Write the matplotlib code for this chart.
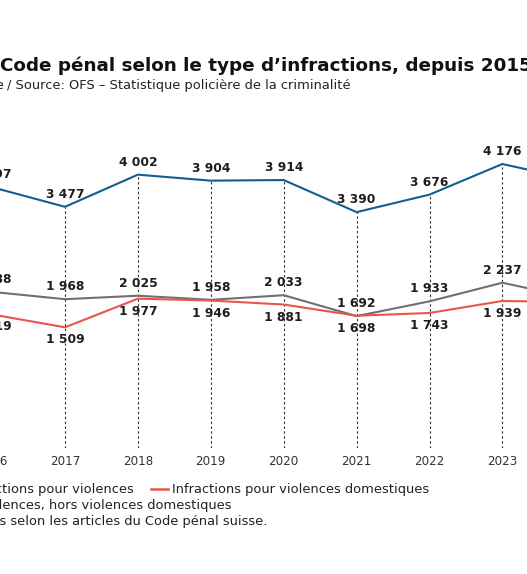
import matplotlib
matplotlib.use("Agg")
import matplotlib.pyplot as plt
from matplotlib.lines import Line2D

# ---- data ----
years = [2016, 2017, 2018, 2019, 2020, 2021, 2022, 2023, 2024]
total = [3797, 3477, 4002, 3904, 3914, 3390, 3676, 4176, 3913]
hors_dom = [2088, 1968, 2025, 1958, 2033, 1692, 1933, 2237, 1979]
domestiques = [1719, 1509, 1977, 1946, 1881, 1698, 1743, 1939, 1922]
tick_labels = [str(y) for y in years]

labels_series = ["Total des infractions pour violences",
                 "Infractions pour violences domestiques",
                 "Infractions pour violences, hors violences domestiques"]

C_BLUE = "#155d8c"
C_GRAY = "#707070"
C_RED = "#e8554c"
TXT = "#1e1e1e"

plt.rcParams['font.family'] = ['DejaVu Sans']

W, H = 527, 574
fig = plt.figure(figsize=(W / 100, H / 100), dpi=100)

def fx(x):
    return x / W

def fy(y):
    return 1 - y / H

# axes geometry (pixel mapping derived from reference)
x2017 = 65.0
step = 72.9
xl0, xl1 = 2015.5, 2024.5
px_l = x2017 + (xl0 - 2017) * step
px_r = x2017 + (xl1 - 2017) * step
y_top_px, y_bot_px = 120.0, 448.0
y0_px, k = 419.7, 0.06123
ylo = (y0_px - y_bot_px) / k
yhi = (y0_px - y_top_px) / k

ax = fig.add_axes([fx(px_l), fy(y_bot_px), (px_r - px_l) / W, (y_bot_px - y_top_px) / H])
ax.set_xlim(xl0, xl1)
ax.set_ylim(ylo, yhi)
for s in ax.spines.values():
    s.set_visible(False)
ax.set_yticks([])
ax.set_xticks(years)
ax.set_xticklabels(tick_labels, fontsize=8.6, color="#333333")
ax.tick_params(axis='x', length=0, pad=5)

# dashed guide lines
ax.vlines(years, ylo, total, colors="#333333", linestyles=(0, (2.2, 2.2)), linewidth=0.8, zorder=1)

ax.plot(years, hors_dom, color=C_GRAY, lw=1.5, zorder=3, solid_joinstyle='miter')
ax.plot(years, domestiques, color=C_RED, lw=1.5, zorder=3, solid_joinstyle='miter')
ax.plot(years, total, color=C_BLUE, lw=1.5, zorder=3, solid_joinstyle='miter')

def fmt(v):
    return f"{v:,}".replace(",", " ")

for x, v in zip(years, total):
    ax.annotate(fmt(v), (x, v), xytext=(0, 9), textcoords='offset points',
                ha='center', va='center', fontsize=8.8, fontweight='bold', color=TXT)
for x, v in zip(years, hors_dom):
    ax.annotate(fmt(v), (x, v), xytext=(0, 9), textcoords='offset points',
                ha='center', va='center', fontsize=8.8, fontweight='bold', color=TXT)
for x, v in zip(years, domestiques):
    ax.annotate(fmt(v), (x, v), xytext=(0, -9), textcoords='offset points',
                ha='center', va='center', fontsize=8.8, fontweight='bold', color=TXT)

# title & subtitle
fig.text(fx(-2), fy(66), "Infractions enregistrées au ", ha='right', va='center',
         fontsize=13.2, fontweight='bold', color="#111111")
fig.text(fx(0), fy(66), "Code pénal selon le type d’infractions, depuis 2015", ha='left', va='center',
         fontsize=13.2, fontweight='bold', color="#111111")
fig.text(fx(7.5), fy(86), "Nombre d’infractions, valeur absolue ", ha='right', va='center',
         fontsize=9.4, color="#222222")
fig.text(fx(7), fy(86), "/ Source: OFS – Statistique policière de la criminalité",
         ha='left', va='center', fontsize=9.4, color="#222222")

# legend (manual)
fs_leg = 9.35
fig.text(fx(134), fy(490), labels_series[0], ha='right', va='center', fontsize=fs_leg, color="#222222")
fig.add_artist(Line2D([fx(151), fx(168)], [fy(489), fy(489)], color=C_RED, lw=1.8))
fig.text(fx(172), fy(490), labels_series[1], ha='left', va='center', fontsize=fs_leg, color="#222222")
fig.text(fx(231), fy(506), labels_series[2], ha='right', va='center', fontsize=fs_leg, color="#222222")
fig.text(fx(267), fy(522), "Remarque: infractions enregistrées selon les articles du Code pénal suisse.",
         ha='right', va='center', fontsize=fs_leg, color="#222222")

fig.savefig("out.png", dpi=100, facecolor="white")
